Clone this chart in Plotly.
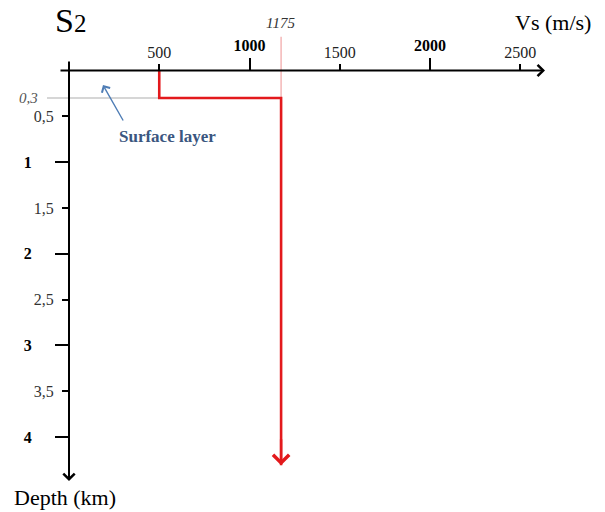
import plotly.graph_objects as go

# ---- data ----
VS_PROFILE = [500, 500, 1175, 1175]          # m/s
DEPTH_PROFILE = [0, 0.3, 0.3, 4.31]          # km
SURFACE_DEPTH = 0.3
BEDROCK_VS = 1175

X_TICKS_MINOR = [500, 1500, 2500]
X_TICKS_MAJOR = [1000, 2000]
Y_TICKS_MINOR = [0.5, 1.5, 2.5, 3.5]
Y_TICKS_MAJOR = [1, 2, 3, 4]
Y_LABELS_MINOR = ["0,5", "1,5", "2,5", "3,5"]
Y_LABELS_MAJOR = ["1", "2", "3", "4"]

# ---- geometry (pixel mapping of the schematic) ----
W, H = 605, 512
PX0, PXS = 69.0, 0.1805      # x pixel of Vs=0, px per m/s
PY0, PYS = 70.5, 91.6        # y pixel of depth=0, px per km

xmin = -PX0 / PXS
xmax = (W - PX0) / PXS
ytop = -PY0 / PYS
ybot = (H - PY0) / PYS

FONT = "Liberation Serif"
RED = "#e3191c"

fig = go.Figure()

# red velocity profile
fig.add_trace(go.Scatter(
    x=VS_PROFILE, y=DEPTH_PROFILE, mode="lines",
    line=dict(color=RED, width=2.6), hoverinfo="skip", showlegend=False,
))
# invisible trace to activate secondary axes
fig.add_trace(go.Scatter(
    x=VS_PROFILE, y=DEPTH_PROFILE, mode="lines", xaxis="x2", yaxis="y2",
    line=dict(width=0, color="rgba(0,0,0,0)"), hoverinfo="skip", showlegend=False,
))

xpos = (H - PY0) / H
ypos = PX0 / W

common_x = dict(range=[xmin, xmax], side="top", anchor="free", position=xpos,
                showgrid=False, zeroline=False, showline=False,
                ticks="outside", tickwidth=2, tickcolor="black", tickmode="array")
common_y = dict(range=[ybot, ytop], side="left", anchor="free", position=ypos,
                showgrid=False, zeroline=False, showline=False,
                ticks="outside", tickwidth=2, tickcolor="black", tickmode="array")

fig.update_layout(
    width=W, height=H,
    margin=dict(l=0, r=0, t=0, b=0),
    plot_bgcolor="white", paper_bgcolor="white",
    showlegend=False,
    font=dict(family=FONT, color="black"),
    xaxis=dict(**common_x, tickvals=X_TICKS_MINOR,
               ticktext=[str(v) for v in X_TICKS_MINOR], ticklen=7,
               ticklabelstandoff=-1,
               tickfont=dict(family=FONT, size=16, color="#222")),
    xaxis2=dict(**common_x, overlaying="x", tickvals=X_TICKS_MAJOR,
                ticktext=[f"<b>{v}</b>" for v in X_TICKS_MAJOR], ticklen=13,
                ticklabelstandoff=0,
                tickfont=dict(family=FONT, size=16, color="black")),
    yaxis=dict(**common_y, tickvals=Y_TICKS_MINOR, ticktext=Y_LABELS_MINOR,
               ticklen=7, ticklabelstandoff=5,
               tickfont=dict(family=FONT, size=16, color="#333")),
    yaxis2=dict(**common_y, overlaying="y", tickvals=Y_TICKS_MAJOR,
                ticktext=[f"<b>{t}</b>" for t in Y_LABELS_MAJOR],
                ticklen=14, ticklabelstandoff=20,
                tickfont=dict(family=FONT, size=16, color="black")),
)

# gray guide at surface-layer depth
fig.add_shape(type="line", xref="x", yref="y",
              x0=(47 - PX0) / PXS, x1=VS_PROFILE[1], y0=SURFACE_DEPTH, y1=SURFACE_DEPTH,
              line=dict(color="#c8c8c8", width=1.5), layer="below")
# pink guide at 1175
top_pink = (36.7 - PY0) / PYS
fig.add_shape(type="line", xref="x", yref="y",
              x0=BEDROCK_VS, x1=BEDROCK_VS, y0=top_pink, y1=SURFACE_DEPTH,
              line=dict(color="#f4b6b6", width=1.5), layer="below")

ann = []
# axis lines with arrowheads
ann.append(dict(x=(545 - PX0) / PXS, y=0, ax=(59 - PX0) / PXS, ay=0,
                xref="x", yref="y", axref="x", ayref="y", text="",
                showarrow=True, arrowhead=4, arrowsize=1.1, arrowwidth=2,
                arrowcolor="black", standoff=0, startstandoff=0))
ann.append(dict(x=0, y=(481 - PY0) / PYS, ax=0, ay=(60 - PY0) / PYS,
                xref="x", yref="y", axref="x", ayref="y", text="",
                showarrow=True, arrowhead=4, arrowsize=1.1, arrowwidth=2,
                arrowcolor="black", standoff=0, startstandoff=0))
# red arrowhead at the bottom of the profile
ann.append(dict(x=VS_PROFILE[-1], y=DEPTH_PROFILE[-1], ax=VS_PROFILE[-1],
                ay=DEPTH_PROFILE[-1] - 0.3,
                xref="x", yref="y", axref="x", ayref="y", text="",
                showarrow=True, arrowhead=4, arrowsize=1.3, arrowwidth=2.4,
                arrowcolor=RED, standoff=0))
# 1175 label
ann.append(dict(x=BEDROCK_VS, y=top_pink, xref="x", yref="y", text="<i>1175</i>",
                showarrow=False, xanchor="center", yanchor="bottom", yshift=4, xshift=-1,
                font=dict(family=FONT, size=15, color="#333")))
# 0,3 label
ann.append(dict(x=0, y=SURFACE_DEPTH, xref="x", yref="y", text="<i>0,3</i>",
                showarrow=False, xanchor="right", yanchor="middle", xshift=-29,
                font=dict(family=FONT, size=15, color="#555")))
# surface layer arrow and text
ann.append(dict(x=(103 - PX0) / PXS, y=(85 - PY0) / PYS,
                ax=(124 - PX0) / PXS, ay=(122 - PY0) / PYS,
                xref="x", yref="y", axref="x", ayref="y", text="",
                showarrow=True, arrowhead=4, arrowsize=1.3, arrowwidth=1.4,
                arrowcolor="#4f7db5", standoff=0))
ann.append(dict(x=(167.5 - PX0) / PXS, y=(136.7 - PY0) / PYS, xref="x", yref="y",
                text="<b>Surface layer</b>", showarrow=False,
                xanchor="center", yanchor="middle",
                font=dict(family=FONT, size=17, color="#3b5680")))
# titles
ann.append(dict(x=70 / W, y=1 - 20 / H, xref="paper", yref="paper",
                text="S<span style='font-size:25px'>2</span>", showarrow=False,
                xanchor="center", yanchor="middle",
                font=dict(family=FONT, size=34, color="black")))
ann.append(dict(x=553 / W, y=1 - 22.7 / H, xref="paper", yref="paper",
                text="Vs (m/s)", showarrow=False,
                xanchor="center", yanchor="middle",
                font=dict(family=FONT, size=22, color="black")))
ann.append(dict(x=65 / W, y=1 - 497 / H, xref="paper", yref="paper",
                text="Depth (km)", showarrow=False,
                xanchor="center", yanchor="middle",
                font=dict(family=FONT, size=22, color="black")))

fig.update_layout(annotations=ann)
fig.write_html("out.html", config={"displayModeBar": False},
               post_script="document.body.style.margin='0';document.body.style.overflow='hidden';")
